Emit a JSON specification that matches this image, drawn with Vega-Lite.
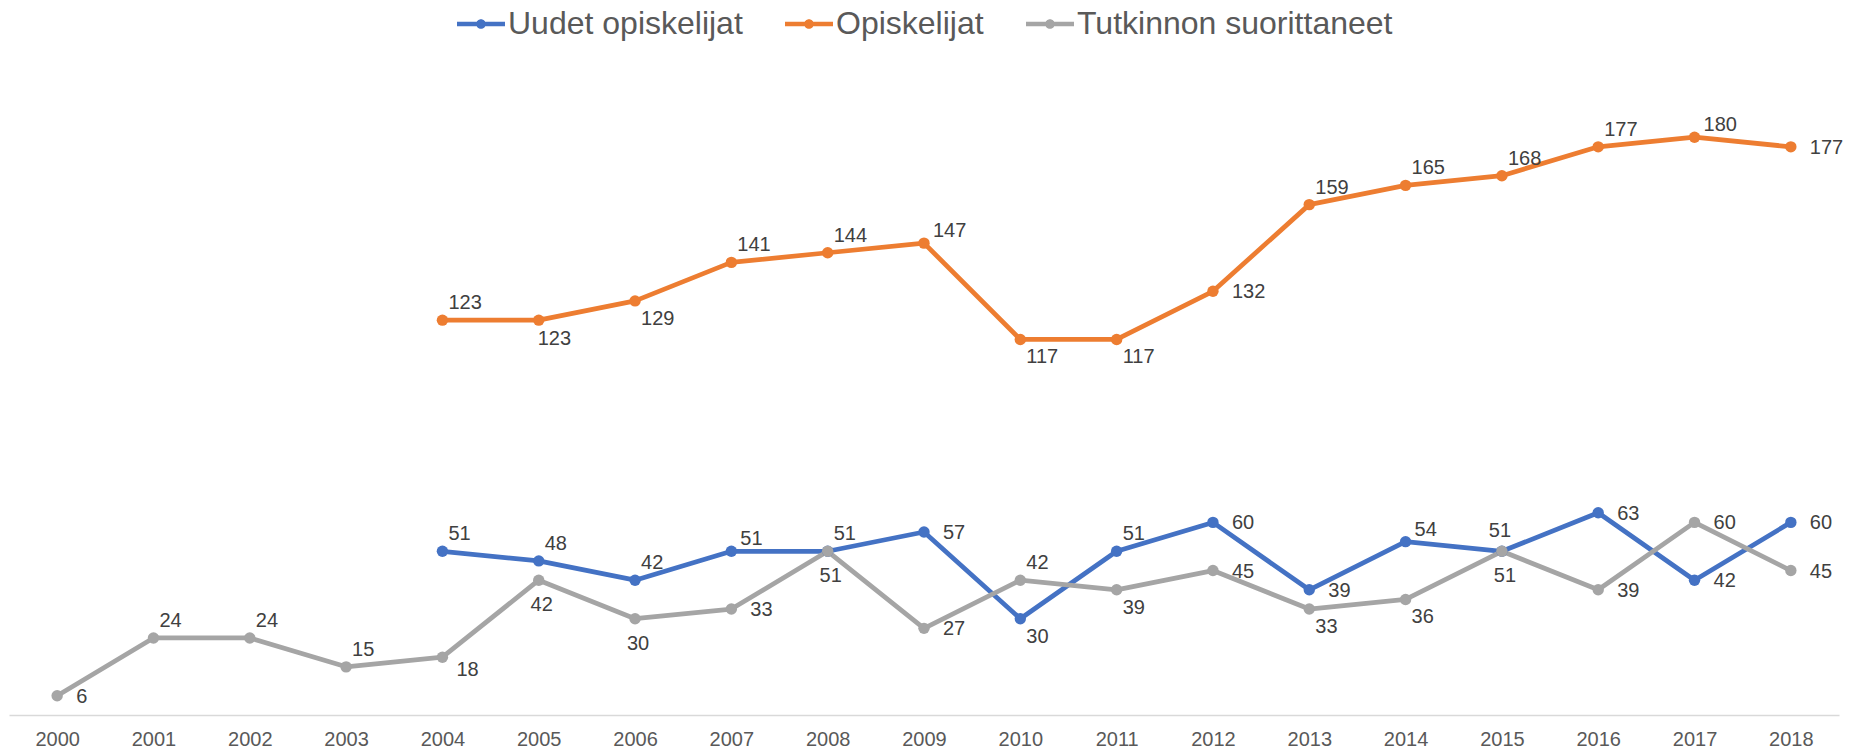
{
  "$schema": "https://vega.github.io/schema/vega-lite/v6.json",
  "width": 1830,
  "height": 642,
  "autosize": {"type": "none"},
  "padding": {"left": 9, "top": 73, "right": 24, "bottom": 37},
  "background": "white",
  "config": {
    "view": {"stroke": null},
    "font": "Liberation Sans",
    "text": {"font": "Liberation Sans"}
  },
  "data": {
    "values": [
      {"sarja": "Uudet opiskelijat", "vuosi": 2004, "arvo": 51},
      {"sarja": "Uudet opiskelijat", "vuosi": 2005, "arvo": 48},
      {"sarja": "Uudet opiskelijat", "vuosi": 2006, "arvo": 42},
      {"sarja": "Uudet opiskelijat", "vuosi": 2007, "arvo": 51},
      {"sarja": "Uudet opiskelijat", "vuosi": 2008, "arvo": 51},
      {"sarja": "Uudet opiskelijat", "vuosi": 2009, "arvo": 57},
      {"sarja": "Uudet opiskelijat", "vuosi": 2010, "arvo": 30},
      {"sarja": "Uudet opiskelijat", "vuosi": 2011, "arvo": 51},
      {"sarja": "Uudet opiskelijat", "vuosi": 2012, "arvo": 60},
      {"sarja": "Uudet opiskelijat", "vuosi": 2013, "arvo": 39},
      {"sarja": "Uudet opiskelijat", "vuosi": 2014, "arvo": 54},
      {"sarja": "Uudet opiskelijat", "vuosi": 2015, "arvo": 51},
      {"sarja": "Uudet opiskelijat", "vuosi": 2016, "arvo": 63},
      {"sarja": "Uudet opiskelijat", "vuosi": 2017, "arvo": 42},
      {"sarja": "Uudet opiskelijat", "vuosi": 2018, "arvo": 60},
      {"sarja": "Opiskelijat", "vuosi": 2004, "arvo": 123},
      {"sarja": "Opiskelijat", "vuosi": 2005, "arvo": 123},
      {"sarja": "Opiskelijat", "vuosi": 2006, "arvo": 129},
      {"sarja": "Opiskelijat", "vuosi": 2007, "arvo": 141},
      {"sarja": "Opiskelijat", "vuosi": 2008, "arvo": 144},
      {"sarja": "Opiskelijat", "vuosi": 2009, "arvo": 147},
      {"sarja": "Opiskelijat", "vuosi": 2010, "arvo": 117},
      {"sarja": "Opiskelijat", "vuosi": 2011, "arvo": 117},
      {"sarja": "Opiskelijat", "vuosi": 2012, "arvo": 132},
      {"sarja": "Opiskelijat", "vuosi": 2013, "arvo": 159},
      {"sarja": "Opiskelijat", "vuosi": 2014, "arvo": 165},
      {"sarja": "Opiskelijat", "vuosi": 2015, "arvo": 168},
      {"sarja": "Opiskelijat", "vuosi": 2016, "arvo": 177},
      {"sarja": "Opiskelijat", "vuosi": 2017, "arvo": 180},
      {"sarja": "Opiskelijat", "vuosi": 2018, "arvo": 177},
      {"sarja": "Tutkinnon suorittaneet", "vuosi": 2000, "arvo": 6},
      {"sarja": "Tutkinnon suorittaneet", "vuosi": 2001, "arvo": 24},
      {"sarja": "Tutkinnon suorittaneet", "vuosi": 2002, "arvo": 24},
      {"sarja": "Tutkinnon suorittaneet", "vuosi": 2003, "arvo": 15},
      {"sarja": "Tutkinnon suorittaneet", "vuosi": 2004, "arvo": 18},
      {"sarja": "Tutkinnon suorittaneet", "vuosi": 2005, "arvo": 42},
      {"sarja": "Tutkinnon suorittaneet", "vuosi": 2006, "arvo": 30},
      {"sarja": "Tutkinnon suorittaneet", "vuosi": 2007, "arvo": 33},
      {"sarja": "Tutkinnon suorittaneet", "vuosi": 2008, "arvo": 51},
      {"sarja": "Tutkinnon suorittaneet", "vuosi": 2009, "arvo": 27},
      {"sarja": "Tutkinnon suorittaneet", "vuosi": 2010, "arvo": 42},
      {"sarja": "Tutkinnon suorittaneet", "vuosi": 2011, "arvo": 39},
      {"sarja": "Tutkinnon suorittaneet", "vuosi": 2012, "arvo": 45},
      {"sarja": "Tutkinnon suorittaneet", "vuosi": 2013, "arvo": 33},
      {"sarja": "Tutkinnon suorittaneet", "vuosi": 2014, "arvo": 36},
      {"sarja": "Tutkinnon suorittaneet", "vuosi": 2015, "arvo": 51},
      {"sarja": "Tutkinnon suorittaneet", "vuosi": 2016, "arvo": 39},
      {"sarja": "Tutkinnon suorittaneet", "vuosi": 2017, "arvo": 60},
      {"sarja": "Tutkinnon suorittaneet", "vuosi": 2018, "arvo": 45}
    ]
  },
  "encoding": {
    "x": {
      "field": "vuosi",
      "type": "ordinal",
      "scale": {"type": "point", "padding": 0.5},
      "axis": {
        "title": null,
        "labelAngle": 0,
        "labelFontSize": 20,
        "labelColor": "#595959",
        "labelFont": "Liberation Sans",
        "labelPadding": 14,
        "ticks": false,
        "grid": false,
        "domainColor": "#D9D9D9",
        "domainWidth": 1.5
      }
    },
    "y": {
      "field": "arvo",
      "type": "quantitative",
      "scale": {"domain": [0, 200], "nice": false, "zero": true},
      "axis": null
    }
  },
  "layer": [
    {
      "mark": {"type": "line", "strokeWidth": 4.75, "strokeCap": "round", "strokeJoin": "round"},
      "encoding": {
        "stroke": {
          "field": "sarja",
          "type": "nominal",
          "scale": {
            "domain": ["Opiskelijat", "Tutkinnon suorittaneet", "Uudet opiskelijat"],
            "range": ["#ED7D31", "#A5A5A5", "#4472C4"]
          },
          "legend": null
        }
      }
    },
    {
      "mark": {"type": "point", "filled": true, "opacity": 1, "size": 130},
      "encoding": {
        "color": {
          "field": "sarja",
          "type": "nominal",
          "scale": {
            "domain": ["Uudet opiskelijat", "Opiskelijat", "Tutkinnon suorittaneet"],
            "range": ["#4472C4", "#ED7D31", "#A5A5A5"]
          },
          "legend": {
            "title": null,
            "orient": "none",
            "direction": "horizontal",
            "legendX": 448,
            "legendY": -73,
            "padding": 0,
            "columnPadding": 42,
            "labelFontSize": 32,
            "labelColor": "#595959",
            "labelFont": "Liberation Sans",
            "labelOffset": 3,
            "labelLimit": 500,
            "symbolType": "M-1,-0.09H1V0.09H-1Z M-0.2,0A0.2,0.2,0,1,1,0.2,0A0.2,0.2,0,1,1,-0.2,0Z",
            "symbolSize": 2304,
            "symbolStrokeWidth": 0,
            "symbolOpacity": 1
          }
        }
      }
    },
    {
      "transform": [{"filter": "(datum.sarja=='Opiskelijat' && indexof([2004,2007,2008,2013,2014,2015,2016],datum.vuosi)>=0) || (datum.sarja=='Uudet opiskelijat' && indexof([2004,2005,2006,2008,2011],datum.vuosi)>=0) || (datum.sarja=='Tutkinnon suorittaneet' && indexof([2001,2002,2003,2010],datum.vuosi)>=0)"}],
      "mark": {"type": "text", "align": "left", "baseline": "middle", "dx": 6, "dy": -17, "fontSize": 20, "color": "#404040"},
      "encoding": {"text": {"field": "arvo", "type": "quantitative"}}
    },
    {
      "transform": [{"filter": "(datum.sarja=='Opiskelijat' && indexof([2009,2017],datum.vuosi)>=0) || (datum.sarja=='Uudet opiskelijat' && indexof([2007,2014],datum.vuosi)>=0)"}],
      "mark": {"type": "text", "align": "left", "baseline": "middle", "dx": 9, "dy": -12, "fontSize": 20, "color": "#404040"},
      "encoding": {"text": {"field": "arvo", "type": "quantitative"}}
    },
    {
      "transform": [{"filter": "datum.sarja=='Uudet opiskelijat' && datum.vuosi==2015"}],
      "mark": {"type": "text", "align": "center", "baseline": "middle", "dx": -2, "dy": -20, "fontSize": 20, "color": "#404040"},
      "encoding": {"text": {"field": "arvo", "type": "quantitative"}}
    },
    {
      "transform": [{"filter": "(datum.sarja=='Opiskelijat' && indexof([2006,2010,2011],datum.vuosi)>=0) || (datum.sarja=='Uudet opiskelijat' && datum.vuosi==2010) || (datum.sarja=='Tutkinnon suorittaneet' && indexof([2011,2013,2014],datum.vuosi)>=0)"}],
      "mark": {"type": "text", "align": "left", "baseline": "middle", "dx": 6, "dy": 18, "fontSize": 20, "color": "#404040"},
      "encoding": {"text": {"field": "arvo", "type": "quantitative"}}
    },
    {
      "transform": [{"filter": "(datum.sarja=='Opiskelijat' && datum.vuosi==2005)"}],
      "mark": {"type": "text", "align": "left", "baseline": "middle", "dx": -1, "dy": 19, "fontSize": 20, "color": "#404040"},
      "encoding": {"text": {"field": "arvo", "type": "quantitative"}}
    },
    {
      "transform": [{"filter": "(datum.sarja=='Tutkinnon suorittaneet' && datum.vuosi==2004)"}],
      "mark": {"type": "text", "align": "left", "baseline": "middle", "dx": 14, "dy": 13, "fontSize": 20, "color": "#404040"},
      "encoding": {"text": {"field": "arvo", "type": "quantitative"}}
    },
    {
      "transform": [{"filter": "datum.sarja=='Tutkinnon suorittaneet' && indexof([2005,2006,2008,2015],datum.vuosi)>=0"}],
      "mark": {"type": "text", "align": "center", "baseline": "middle", "dx": 3, "dy": 25, "fontSize": 20, "color": "#404040"},
      "encoding": {"text": {"field": "arvo", "type": "quantitative"}}
    },
    {
      "transform": [{"filter": "(datum.sarja=='Opiskelijat' && indexof([2012,2018],datum.vuosi)>=0) || (datum.sarja=='Uudet opiskelijat' && indexof([2009,2012,2013,2016,2017,2018],datum.vuosi)>=0) || (datum.sarja=='Tutkinnon suorittaneet' && indexof([2000,2007,2009,2012,2016,2017,2018],datum.vuosi)>=0)"}],
      "mark": {"type": "text", "align": "left", "baseline": "middle", "dx": 19, "dy": 1, "fontSize": 20, "color": "#404040"},
      "encoding": {"text": {"field": "arvo", "type": "quantitative"}}
    }
  ]
}
